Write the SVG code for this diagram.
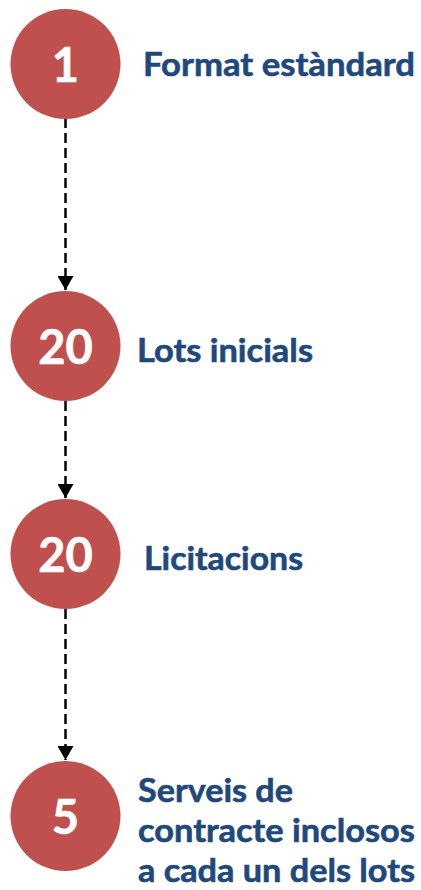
<svg xmlns="http://www.w3.org/2000/svg" width="421" height="890" viewBox="0 0 421 890">
<defs>
<marker id="arr" markerUnits="userSpaceOnUse" markerWidth="16" markerHeight="16" refX="14" refY="8" orient="auto">
<path d="M0,0 L14,8 L0,16 Z" fill="#000"/>
</marker>
<style>
.c{fill:#C0504D}
.n{font-family:Lato,"Open Sans",sans-serif;font-weight:bold;font-size:47px;fill:#fff;stroke:#fff;stroke-width:0.6;text-anchor:middle}
.t{font-family:Lato,"Open Sans",sans-serif;font-weight:bold;font-size:33px;fill:#1F497D;stroke:#1F497D;stroke-width:0.6}
.e{stroke:#000;stroke-width:2.5;stroke-dasharray:10 5;fill:none}
</style>
</defs>
<g id="connectors">
<line class="e" x1="65.5" y1="118" x2="65.5" y2="290" marker-end="url(#arr)"/>
<line class="e" x1="65.5" y1="401" x2="65.5" y2="498" marker-end="url(#arr)"/>
<line class="e" x1="65.5" y1="609" x2="65.5" y2="760" marker-end="url(#arr)"/>
</g>
<g id="node1">
<circle class="c" cx="65.5" cy="64" r="55"/>
<text class="n" x="65.5" y="81.5">1</text>
<text class="t" x="143" y="76" textLength="272" lengthAdjust="spacingAndGlyphs">Format estàndard</text>
</g>
<g id="node2">
<circle class="c" cx="65.5" cy="346" r="55"/>
<text class="n" x="65.5" y="364">20</text>
<text class="t" x="137" y="361.5" textLength="176" lengthAdjust="spacingAndGlyphs">Lots inicials</text>
</g>
<g id="node3">
<circle class="c" cx="65.5" cy="554" r="55"/>
<text class="n" x="65.5" y="571.5">20</text>
<text class="t" x="144" y="570" textLength="159" lengthAdjust="spacingAndGlyphs">Licitacions</text>
</g>
<g id="node4">
<circle class="c" cx="65.5" cy="816" r="55"/>
<text class="n" x="65.5" y="834">5</text>
<text class="t" x="138" y="801.5" textLength="155" lengthAdjust="spacingAndGlyphs">Serveis de</text>
<text class="t" x="138" y="841.5" textLength="277" lengthAdjust="spacingAndGlyphs">contracte inclosos</text>
<text class="t" x="138" y="881.5" textLength="277" lengthAdjust="spacingAndGlyphs">a cada un dels lots</text>
</g>
</svg>
